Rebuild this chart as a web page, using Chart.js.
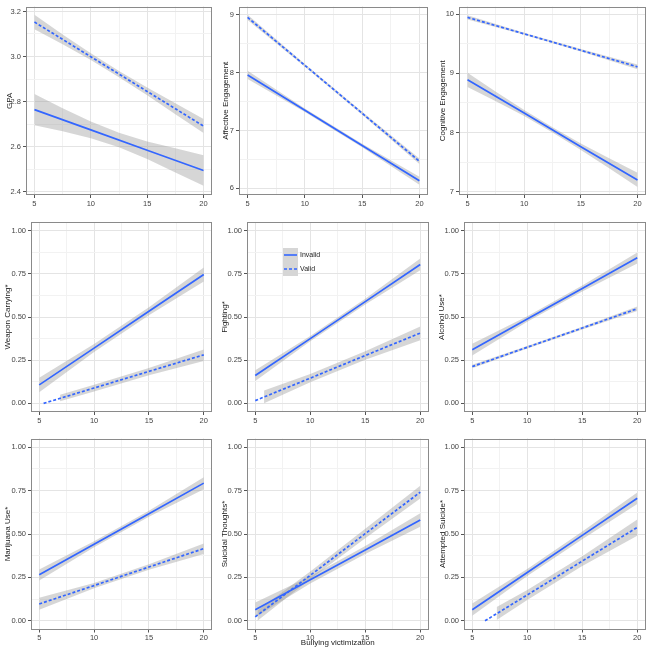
<!DOCTYPE html>
<html><head><meta charset="utf-8">
<script src="https://cdn.jsdelivr.net/npm/chart.js@4.4.1/dist/chart.umd.min.js"></script>
<style>
html,body{margin:0;padding:0;background:#fff;}
#wrap{position:relative;width:652px;height:655px;overflow:hidden;background:#fff;}
canvas{position:absolute;}
</style></head><body><div id="wrap"></div>
<script>
// ---------------- DATA ----------------
const xGrid = [5, 10, 15, 20];
const xFine = [5, 7.5, 10, 12.5, 15, 17.5, 20];
const xMajorTicks = [5, 10, 15, 20];
const xMinorTicks = [7.5, 12.5, 17.5];
const xTitle = 'Bullying victimization';
const seriesNames = ['Invalid', 'Valid'];

// GPA
const gpaInvalid   = [2.764, 2.674, 2.584, 2.494];
const gpaInvalidLo = [2.695, 2.668, 2.637, 2.597, 2.545, 2.485, 2.426];
const gpaInvalidHi = [2.833, 2.770, 2.711, 2.661, 2.623, 2.593, 2.562];
const gpaValid     = [3.153, 2.999, 2.845, 2.691];
const gpaValidLo   = [3.121, 3.054, 2.984, 2.908, 2.828, 2.744, 2.660];
const gpaValidHi   = [3.185, 3.098, 3.014, 2.936, 2.862, 2.792, 2.722];
const gpaTicks = [2.4, 2.6, 2.8, 3.0, 3.2];
const gpaMinor = [2.5, 2.7, 2.9, 3.1];

// Affective Engagement
const affInvalid   = [7.96, 7.35, 6.74, 6.13];
const affInvalidLo = [7.89, 7.32, 6.71, 6.06];
const affInvalidHi = [8.03, 7.38, 6.77, 6.20];
const affValid     = [8.954, 8.125, 7.297, 6.468];
const affValidLo   = [8.91, 8.10, 7.27, 6.42];
const affValidHi   = [9.00, 8.15, 7.325, 6.515];
const affTicks = [6, 7, 8, 9];
const affMinor = [6.5, 7.5, 8.5];

// Cognitive Engagement
const cogInvalid   = [8.89, 8.33, 7.76, 7.20];
const cogInvalidLo = [8.77, 8.53, 8.28, 8.00, 7.705, 7.395, 7.08];
const cogInvalidHi = [9.01, 8.69, 8.38, 8.09, 7.815, 7.565, 7.32];
const cogValid     = [9.945, 9.667, 9.389, 9.11];
const cogValidLo   = [9.91, 9.65, 9.37, 9.07];
const cogValidHi   = [9.98, 9.685, 9.41, 9.15];
const cogTicks = [7, 8, 9, 10];
const cogMinor = [7.5, 8.5, 9.5];

// probability panels
const probTicks = [0, 0.25, 0.5, 0.75, 1];
const probMinor = [0.125, 0.375, 0.625, 0.875];

// Weapon Carrying*
const weapInvalid   = [0.107, 0.320, 0.533, 0.746];
const weapInvalidLo = [0.065, 0.297, 0.510, 0.705];
const weapInvalidHi = [0.148, 0.343, 0.556, 0.787];
const weapValidX    = [5.4, 10, 15, 20];
const weapValid     = [0.0, 0.089, 0.185, 0.281];
const weapValidBandX= [6.9, 10, 15, 20];
const weapValidLo   = [0.012, 0.068, 0.163, 0.245];
const weapValidHi   = [0.050, 0.108, 0.205, 0.312];

// Fighting*
const fightInvalid   = [0.161, 0.375, 0.589, 0.804];
const fightInvalidLo = [0.130, 0.360, 0.573, 0.770];
const fightInvalidHi = [0.192, 0.390, 0.605, 0.838];
const fightValid     = [0.016, 0.146, 0.277, 0.407];
const fightValidBandX= [5.8, 10, 15, 20];
const fightValidLo   = [0.0, 0.122, 0.252, 0.365];
const fightValidHi   = [0.075, 0.170, 0.302, 0.445];

// Alcohol Use*
const alcInvalid   = [0.310, 0.488, 0.665, 0.843];
const alcInvalidLo = [0.277, 0.472, 0.648, 0.810];
const alcInvalidHi = [0.345, 0.504, 0.682, 0.874];
const alcValid     = [0.213, 0.325, 0.436, 0.548];
const alcValidLo   = [0.203, 0.318, 0.428, 0.535];
const alcValidHi   = [0.223, 0.332, 0.444, 0.561];

// Marijuana Use*
const marInvalid   = [0.265, 0.441, 0.617, 0.793];
const marInvalidLo = [0.232, 0.424, 0.600, 0.758];
const marInvalidHi = [0.296, 0.458, 0.634, 0.827];
const marValid     = [0.097, 0.203, 0.310, 0.416];
const marValidLo   = [0.064, 0.188, 0.294, 0.385];
const marValidHi   = [0.133, 0.218, 0.326, 0.446];

// Suicidal Thoughts*
const thInvalid   = [0.064, 0.236, 0.408, 0.580];
const thInvalidLo = [0.020, 0.215, 0.385, 0.542];
const thInvalidHi = [0.106, 0.257, 0.431, 0.620];
const thValid     = [0.023, 0.262, 0.502, 0.741];
const thValidBandX= [5.2, 10, 15, 20];
const thValidLo   = [0.0, 0.240, 0.475, 0.705];
const thValidHi   = [0.060, 0.284, 0.530, 0.778];

// Attempted Suicide*
const attInvalid   = [0.064, 0.278, 0.492, 0.706];
const attInvalidLo = [0.029, 0.258, 0.470, 0.673];
const attInvalidHi = [0.100, 0.298, 0.514, 0.739];
const attValidX    = [6.16, 10, 15, 20];
const attValid     = [0.0, 0.149, 0.344, 0.538];
const attValidBandX= [7.22, 10, 15, 20];
const attValidLo   = [0.005, 0.120, 0.315, 0.490];
const attValidHi   = [0.080, 0.178, 0.372, 0.584];

// ---------------- PANELS ----------------
const panels = [
  {title:'GPA', yMin:2.385, yMax:3.222, major:gpaTicks, minor:gpaMinor, dec:1,
   inv:{x:xGrid, y:gpaInvalid, bx:xFine, lo:gpaInvalidLo, hi:gpaInvalidHi},
   val:{x:xGrid, y:gpaValid, bx:xFine, lo:gpaValidLo, hi:gpaValidHi}},
  {title:'Affective Engagement', yMin:5.885, yMax:9.142, major:affTicks, minor:affMinor, dec:0,
   inv:{x:xGrid, y:affInvalid, bx:xGrid, lo:affInvalidLo, hi:affInvalidHi},
   val:{x:xGrid, y:affValid, bx:xGrid, lo:affValidLo, hi:affValidHi}},
  {title:'Cognitive Engagement', yMin:6.945, yMax:10.129, major:cogTicks, minor:cogMinor, dec:0,
   inv:{x:xGrid, y:cogInvalid, bx:xFine, lo:cogInvalidLo, hi:cogInvalidHi},
   val:{x:xGrid, y:cogValid, bx:xGrid, lo:cogValidLo, hi:cogValidHi}},
  {title:'Weapon Carrying*', yMin:-0.05, yMax:1.05, major:probTicks, minor:probMinor, dec:2,
   inv:{x:xGrid, y:weapInvalid, bx:xGrid, lo:weapInvalidLo, hi:weapInvalidHi},
   val:{x:weapValidX, y:weapValid, bx:weapValidBandX, lo:weapValidLo, hi:weapValidHi}},
  {title:'Fighting*', yMin:-0.05, yMax:1.05, major:probTicks, minor:probMinor, dec:2, legend:true,
   inv:{x:xGrid, y:fightInvalid, bx:xGrid, lo:fightInvalidLo, hi:fightInvalidHi},
   val:{x:xGrid, y:fightValid, bx:fightValidBandX, lo:fightValidLo, hi:fightValidHi}},
  {title:'Alcohol Use*', yMin:-0.05, yMax:1.05, major:probTicks, minor:probMinor, dec:2,
   inv:{x:xGrid, y:alcInvalid, bx:xGrid, lo:alcInvalidLo, hi:alcInvalidHi},
   val:{x:xGrid, y:alcValid, bx:xGrid, lo:alcValidLo, hi:alcValidHi}},
  {title:'Marijuana Use*', yMin:-0.05, yMax:1.05, major:probTicks, minor:probMinor, dec:2,
   inv:{x:xGrid, y:marInvalid, bx:xGrid, lo:marInvalidLo, hi:marInvalidHi},
   val:{x:xGrid, y:marValid, bx:xGrid, lo:marValidLo, hi:marValidHi}},
  {title:'Suicidal Thoughts*', yMin:-0.05, yMax:1.05, major:probTicks, minor:probMinor, dec:2, xTitle:true,
   inv:{x:xGrid, y:thInvalid, bx:xGrid, lo:thInvalidLo, hi:thInvalidHi},
   val:{x:xGrid, y:thValid, bx:thValidBandX, lo:thValidLo, hi:thValidHi}},
  {title:'Attempted Suicide*', yMin:-0.05, yMax:1.05, major:probTicks, minor:probMinor, dec:2,
   inv:{x:xGrid, y:attInvalid, bx:xGrid, lo:attInvalidLo, hi:attInvalidHi},
   val:{x:attValidX, y:attValid, bx:attValidBandX, lo:attValidLo, hi:attValidHi}}
];

// ---------------- LAYOUT ----------------
const colCells = [[0,215],[215,430],[430,652]];
const rowCells = [[0,215],[215,430],[430,655]];
const areas = [
  [26,5,212,195],[239,5,428,195],[459,5,646,195],
  [31,222,212,412],[247,222,428.5,412],[464,222,645.5,412],
  [31,438.5,212,629.5],[247,438.5,428.5,629.5],[464,438.5,645.5,629.5]];
const titleCenters = [10,11,13,8,10,12,8,10,13];

const LINE = '#3366FF';
const BAND = 'rgba(153,153,153,0.4)';
const FONT = "'Liberation Sans', Arial, sans-serif";

const frame = {
  id:'frame',
  afterDatasetsDraw(chart){
    const a = chart.chartArea, c = chart.ctx;
    c.save();
    c.strokeStyle = '#8a8a8a'; c.lineWidth = 1;
    c.strokeRect(Math.round(a.left)+0.5, Math.round(a.top)+0.5,
                 Math.round(a.right)-Math.round(a.left)-1, Math.round(a.bottom)-Math.round(a.top)-1);
    c.restore();
  }
};

const legendPlugin = {
  id:'ggLegend',
  afterDraw(chart){
    if (!chart.options.plugins.ggLegend || !chart.options.plugins.ggLegend.show) return;
    const c = chart.ctx;
    const kx = 68, ky = 33, kw = 15, kh = 14;
    c.save();
    seriesNames.forEach((name, i) => {
      const y0 = ky + i*kh;
      c.fillStyle = '#d6d6d6';
      c.fillRect(kx, y0, kw, kh);
      c.strokeStyle = LINE; c.lineWidth = 1.6;
      c.setLineDash(i === 0 ? [] : [3,2]);
      c.beginPath(); c.moveTo(kx+1, y0+kh/2); c.lineTo(kx+kw-1, y0+kh/2); c.stroke();
      c.setLineDash([]);
      c.fillStyle = '#222';
      c.font = '7px ' + FONT;
      c.textBaseline = 'middle';
      c.fillText(name, kx+kw+2, y0+kh/2);
    });
    c.restore();
  }
};

function pts(xs, ys){ return xs.map((x,i)=>({x:x, y:ys[i]})); }

function makeTicks(major, minor){
  const all = major.map(v=>({value:v, minor:false})).concat(minor.map(v=>({value:v, minor:true})));
  all.sort((a,b)=>a.value-b.value);
  return all;
}

const wrap = document.getElementById('wrap');
panels.forEach((p, i) => {
  const col = i % 3, row = Math.floor(i/3);
  const [cx0, cx1] = colCells[col];
  const [cy0, cy1] = rowCells[row];
  const [al, at, ar, ab] = areas[i];
  const W = cx1 - cx0, H = cy1 - cy0;
  const cv = document.createElement('canvas');
  cv.width = W; cv.height = H;
  cv.style.left = cx0 + 'px'; cv.style.top = cy0 + 'px';
  cv.style.width = W + 'px'; cv.style.height = H + 'px';
  wrap.appendChild(cv);

  const yWidth = al - cx0;
  const xHeight = cy1 - ab;
  const titlePad = titleCenters[i] - 4.8;

  const line = (s, dash) => ({data: pts(s.x, s.y), borderColor: LINE, borderWidth: 1.7,
      borderDash: dash, pointRadius: 0, fill: false, tension: 0, order: 0});
  const lo = (s) => ({data: pts(s.bx, s.lo), borderColor:'rgba(0,0,0,0)', borderWidth: 0,
      pointRadius: 0, fill: false, order: 1});
  const hi = (s) => ({data: pts(s.bx, s.hi), borderColor:'rgba(0,0,0,0)', borderWidth: 0,
      pointRadius: 0, fill: '-1', backgroundColor: BAND, order: 1});

  const gridColor = (ctx) => (ctx.tick && ctx.tick.minor) ? '#f2f2f2' : '#e4e4e4';
  const tickColor = (ctx) => (ctx.tick && ctx.tick.minor) ? 'rgba(0,0,0,0)' : '#555';

  new Chart(cv, {
    type: 'line',
    data: { datasets: [ line(p.inv, []), line(p.val, [3,2]), lo(p.inv), hi(p.inv), lo(p.val), hi(p.val) ] },
    options: {
      responsive: false, animation: false, devicePixelRatio: 1,
      layout: { padding: { left: 0, top: at - cy0, right: cx1 - ar, bottom: 0 } },
      plugins: { legend: {display:false}, tooltip: {enabled:false}, ggLegend: {show: !!p.legend} },
      scales: {
        x: {
          type: 'linear', min: 4.25, max: 20.75,
          afterBuildTicks: (s) => { s.ticks = makeTicks(xMajorTicks, xMinorTicks); },
          afterFit: (s) => { s.height = xHeight; },
          grid: { color: gridColor, lineWidth: 1, tickLength: 3, tickColor: tickColor, tickWidth: 1 },
          border: { display: false },
          ticks: { autoSkip: false, maxRotation: 0, padding: 1, color: '#444',
                   font: { family: FONT, size: 7.5 },
                   callback: (v, idx, ticks) => ticks[idx].minor ? '' : String(v) },
          title: { display: !!p.xTitle, text: xTitle, color: '#222',
                   font: { family: FONT, size: 8 }, padding: { top: 0, bottom: 7.2 } }
        },
        y: {
          type: 'linear', min: p.yMin, max: p.yMax,
          afterBuildTicks: (s) => { s.ticks = makeTicks(p.major, p.minor); },
          afterFit: (s) => { s.width = yWidth; },
          grid: { color: gridColor, lineWidth: 1, tickLength: 3, tickColor: tickColor, tickWidth: 1 },
          border: { display: false },
          ticks: { autoSkip: false, padding: 2, color: '#444',
                   font: { family: FONT, size: 7.5 },
                   callback: (v, idx, ticks) => ticks[idx].minor ? '' : Number(v).toFixed(p.dec) },
          title: { display: true, text: p.title, color: '#222',
                   font: { family: FONT, size: 8 }, padding: { top: titlePad, bottom: 0 } }
        }
      }
    },
    plugins: [frame, legendPlugin]
  });
});
</script>
</body></html>
